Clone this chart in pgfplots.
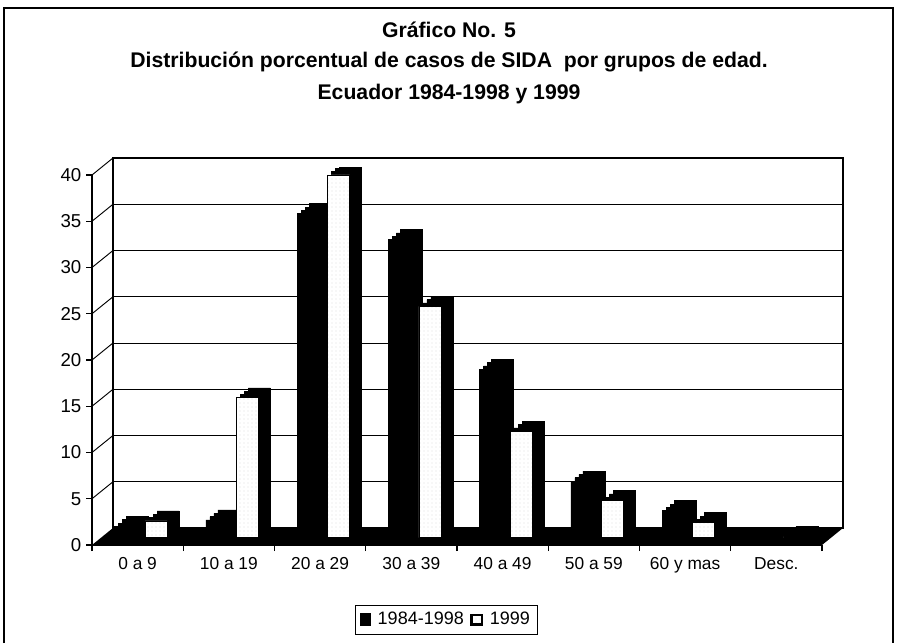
\documentclass[border=0pt]{standalone}
\usepackage{pgfplots}
\pgfplotsset{compat=1.18}
\usepackage{pgfplotstable}
\usepackage{fontspec}
\setmainfont{Liberation Sans}
\usetikzlibrary{patterns}
\pgfdeclarepatternformonly{sparsedots}{\pgfqpoint{-0.5pt}{-0.5pt}}{\pgfqpoint{3.5pt}{3.5pt}}{\pgfqpoint{3pt}{3pt}}{\pgfpathcircle{\pgfqpoint{0pt}{0pt}}{0.35pt}\pgfusepath{fill}}

\pgfplotstableread{
k a b
0 1.2 1.8
1 1.9 15.1
2 35.0 39.2
3 32.2 25.0
4 18.2 11.5
5 6.1 4.0
6 2.9 1.6
7 0.05 0.1
}\datatable

\begin{document}
\begin{tikzpicture}[x=0.75pt,y=0.75pt]
\useasboundingbox (0,0) rectangle (898,643);
\draw[line width=0.9pt] (4,0) -- (4,635) -- (893,635) -- (893,0);
\node[font=\bfseries\fontsize{15.9}{17}\selectfont] at (449,613) {Gráfico No. 5};
\node[font=\bfseries\fontsize{15.9}{17}\selectfont] at (449,581) {Distribución porcentual de casos de SIDA\ \ por grupos de edad.};
\node[font=\bfseries\fontsize{15.9}{17}\selectfont] at (449,549) {Ecuador 1984-1998 y 1999};

% back wall
\begin{axis}[at={(84.75pt,86.25pt)}, anchor=south west, width=547.5pt, height=277.5pt, scale only axis,
  xmin=-0.5, xmax=7.5, ymin=0, ymax=40, xtick=\empty, ytick={0,5,...,40}, yticklabels={},
  major tick length=0pt, ymajorgrids, grid style={black, line width=0.6pt},
  axis line style={line width=0.8pt}]
\end{axis}

% floor and side wall
\fill (92,98) -- (822,98) -- (843,115) -- (113,115) -- cycle;
\foreach \v in {5,10,...,40} \draw[line width=0.7pt] (92,{98+9.25*\v}) -- (113,{115+9.25*\v});

% bars
\begin{axis}[at={(76.125pt,79.125pt)}, anchor=south west, width=547.5pt, height=277.5pt, scale only axis,
  xmin=-0.5, xmax=7.5, ymin=0, ymax=40, hide axis, ybar, bar width=16.5pt,
  legend columns=2,
  legend style={at={(0.472,-0.222)}, anchor=center, draw=black, line width=0.6pt,
    font=\fontsize{13.5}{15}\selectfont, inner sep=3.5pt, column sep=3pt}]
\addplot[fill=black, draw=black, bar shift=-16.1pt, xshift=3pt, yshift=2.5pt, forget plot] table[x=k,y=a]{\datatable};
\addplot[fill=black, draw=black, bar shift=-16.1pt, xshift=6pt, yshift=5pt, forget plot] table[x=k,y=a]{\datatable};
\addplot[fill=black, draw=black, bar shift=-16.1pt, xshift=9pt, yshift=7.5pt, forget plot] table[x=k,y=a]{\datatable};
\addplot[fill=black, draw=black, bar shift=-16.1pt,
  legend image code/.code={\fill[black] (0pt,-4.5pt) rectangle (8pt,4.5pt);}] table[x=k,y=a]{\datatable};
\addplot[fill=black, draw=black, bar shift=6.75pt, xshift=3pt, yshift=2.5pt, forget plot] table[x=k,y=b]{\datatable};
\addplot[fill=black, draw=black, bar shift=6.75pt, xshift=6pt, yshift=5pt, forget plot] table[x=k,y=b]{\datatable};
\addplot[fill=black, draw=black, bar shift=6.75pt, xshift=9pt, yshift=7.5pt, forget plot] table[x=k,y=b]{\datatable};
\addplot[fill=white, draw=black, line width=0.5pt, bar shift=6.75pt, postaction={pattern=sparsedots, pattern color=gray!70},
  legend image code/.code={\draw[black, line width=1.8pt, fill=white] (0.9pt,-3.6pt) rectangle (8.6pt,3.6pt);}] table[x=k,y=b]{\datatable};
\legend{1984-1998,1999}
\end{axis}

% front axis
\begin{axis}[at={(69pt,73.5pt)}, anchor=south west, width=547.5pt, height=277.5pt, scale only axis,
  xmin=-0.5, xmax=7.5, ymin=0, ymax=40,
  axis x line*=bottom, axis y line*=left,
  x axis line style={-, line width=0.9pt}, y axis line style={-, line width=0.9pt},
  xtick={-0.5,0.5,...,7.5}, xticklabels={},
  extra x ticks={0,1,...,7},
  extra x tick labels={0 a 9,10 a 19,20 a 29,30 a 39,40 a 49,50 a 59,60 y mas,Desc.},
  extra x tick style={major tick length=0pt},
  ytick={0,5,...,40},
  tick align=outside, major tick length=4.5pt, tick style={black, line width=0.8pt},
  ticklabel style={font=\fontsize{13}{15}\selectfont},
  yticklabel style={font=\fontsize{14}{16}\selectfont},
  xticklabel style={yshift=-6pt},
  /pgf/number format/assume math mode=true]
\end{axis}
\end{tikzpicture}
\end{document}
